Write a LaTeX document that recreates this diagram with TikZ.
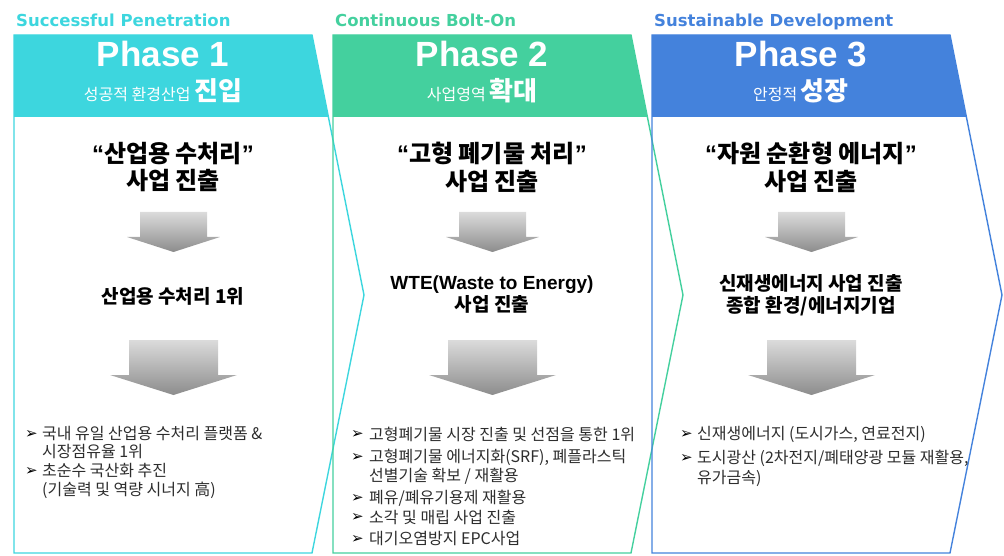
\documentclass[tikz,border=0pt]{standalone}
\usepackage{fontspec}
\setmainfont{Liberation Sans}
\newfontfamily\krfont{Noto Sans CJK KR}
\newfontfamily\dejafont{DejaVu Sans}
\usepackage{tikz}
\usetikzlibrary{positioning}

\definecolor{phaseone}{RGB}{61,214,222}
\definecolor{phasetwo}{RGB}{68,208,158}
\definecolor{phasethree}{RGB}{68,130,220}
\definecolor{bulletgray}{RGB}{45,45,45}

\tikzstyle{phasebox}=[line width=1.4pt, line join=miter]
\tikzstyle{headtitle}=[font=\dejafont\bfseries\fontsize{16.5}{16.5}\selectfont, anchor=base west, inner sep=0pt]
\tikzstyle{phasename}=[font=\bfseries\fontsize{35}{35}\selectfont, text=white, anchor=base, inner sep=0pt]
\tikzstyle{phasesub}=[font=\krfont\fontsize{16}{16}\selectfont, text=white, anchor=base, inner sep=0pt]
\tikzstyle{maintext}=[font=\krfont\bfseries\fontsize{24}{28}\selectfont, align=center, inner sep=0pt]
\tikzstyle{midtext}=[font=\krfont\bfseries\fontsize{19}{22}\selectfont, align=center, inner sep=0pt]
\tikzstyle{bulletmark}=[font=\dejafont\bfseries\fontsize{15}{15}\selectfont, text=black, anchor=west, inner sep=0pt]
\tikzstyle{bullettext}=[font=\krfont\fontsize{16}{16}\selectfont, text=bulletgray, anchor=west, inner sep=0pt]
\tikzstyle{grayarrow}=[top color=gray!28, bottom color=gray!90]

\begin{document}
\begin{tikzpicture}[x=1pt, y=-1pt]
    \useasboundingbox (0,0) rectangle (1004,556);

    % フェーズ1の枠
    \draw[phasebox, phaseone] (14,35) -- (312,35) -- (364,295) -- (312,553) -- (14,553) -- cycle;
    \fill[phaseone] (14,35) -- (312,35) -- (328.4,117) -- (14,117) -- cycle;
    % フェーズ2の枠
    \draw[phasebox, phasetwo] (333,35) -- (631,35) -- (683,295) -- (631,553) -- (333,553) -- cycle;
    \fill[phasetwo] (333,35) -- (631,35) -- (647.4,117) -- (333,117) -- cycle;
    % フェーズ3の枠
    \draw[phasebox, phasethree] (652,35) -- (950,35) -- (1002,295) -- (950,553) -- (652,553) -- cycle;
    \fill[phasethree] (652,35) -- (950,35) -- (966.4,117) -- (652,117) -- cycle;

    % 上の見出し
    \node[headtitle, text=phaseone] (head1) at (16,27) {Successful Penetration};
    \node[headtitle, text=phasetwo] (head2) at (335,27) {Continuous Bolt-On};
    \node[headtitle, text=phasethree] (head3) at (654,27) {Sustainable Development};

    % フェーズ名
    \node[phasename] (phase1) at (163,67) {Phase 1};
    \node[phasename] (phase2) at (482,67) {Phase 2};
    \node[phasename] (phase3) at (801,67) {Phase 3};
    \node[phasesub] (sub1) at (163,101) {성공적 환경산업 {\bfseries\fontsize{26}{26}\selectfont 진입}};
    \node[phasesub] (sub2) at (482,101) {사업영역 {\bfseries\fontsize{26}{26}\selectfont 확대}};
    \node[phasesub] (sub3) at (801,101) {안정적 {\bfseries\fontsize{26}{26}\selectfont 성장}};

    % 事業進出
    \node[maintext] (goal1) at (173,167) {{\rmfamily “}산업용 수처리{\rmfamily ”}\\사업 진출};
    \node[maintext] (goal2) at (492,167) {{\rmfamily “}고형 폐기물 처리{\rmfamily ”}\\사업 진출};
    \node[maintext] (goal3) at (811,167) {{\rmfamily “}자원 순환형 에너지{\rmfamily ”}\\사업 진출};

    % 上の矢印
    \shade[grayarrow] (140,212) -- (207,212) -- (207,237) -- (220,237) -- (173.5,252) -- (127,237) -- (140,237) -- cycle;
    \shade[grayarrow] (459,212) -- (526,212) -- (526,237) -- (539,237) -- (492.5,252) -- (446,237) -- (459,237) -- cycle;
    \shade[grayarrow] (778,212) -- (845,212) -- (845,237) -- (858,237) -- (811.5,252) -- (765,237) -- (778,237) -- cycle;

    % 結果
    \node[midtext] (result1) at (173,296) {산업용 수처리 1위};
    \node[midtext] (result2) at (492,295) {{\rmfamily WTE(Waste to Energy)}\\사업 진출};
    \node[midtext] (result3) at (811,295) {신재생에너지 사업 진출\\종합 환경/에너지기업};

    % 下の矢印
    \shade[grayarrow] (129,340) -- (218,340) -- (218,375) -- (237,375) -- (173.5,395) -- (110,375) -- (129,375) -- cycle;
    \shade[grayarrow] (448,340) -- (537,340) -- (537,375) -- (556,375) -- (492.5,395) -- (429,375) -- (448,375) -- cycle;
    \shade[grayarrow] (767,340) -- (856,340) -- (856,375) -- (875,375) -- (811.5,395) -- (748,375) -- (767,375) -- cycle;

    % 箇条書き (フェーズ1)
    \node[bulletmark] (mark11) at (25,434) {➢};
    \node[bullettext] (item11) at (42,434) {국내 유일 산업용 수처리 플랫폼 \&};
    \node[bullettext] (item11b) at (42,452) {시장점유율 1위};
    \node[bulletmark] (mark12) at (25,471) {➢};
    \node[bullettext] (item12) at (42,471) {초순수 국산화 추진};
    \node[bullettext] (item12b) at (42,490) {(기술력 및 역량 시너지 高)};

    % 箇条書き (フェーズ2)
    \node[bulletmark] (mark21) at (351,434) {➢};
    \node[bullettext] (item21) at (369,434) {고형폐기물 시장 진출 및 선점을 통한 1위};
    \node[bulletmark] (mark22) at (351,457) {➢};
    \node[bullettext] (item22) at (369,457) {고형폐기물 에너지화(SRF), 폐플라스틱};
    \node[bullettext] (item22b) at (369,476) {선별기술 확보 / 재활용};
    \node[bulletmark] (mark23) at (351,498) {➢};
    \node[bullettext] (item23) at (369,498) {폐유/폐유기용제 재활용};
    \node[bulletmark] (mark24) at (351,517) {➢};
    \node[bullettext] (item24) at (369,517) {소각 및 매립 사업 진출};
    \node[bulletmark] (mark25) at (351,539) {➢};
    \node[bullettext] (item25) at (369,539) {대기오염방지 EPC사업};

    % 箇条書き (フェーズ3)
    \node[bulletmark] (mark31) at (680,434) {➢};
    \node[bullettext] (item31) at (697,434) {신재생에너지 (도시가스, 연료전지)};
    \node[bulletmark] (mark32) at (680,458) {➢};
    \node[bullettext] (item32) at (697,458) {도시광산 (2차전지/폐태양광 모듈 재활용,};
    \node[bullettext] (item32b) at (697,478) {유가금속)};
\end{tikzpicture}
\end{document}
